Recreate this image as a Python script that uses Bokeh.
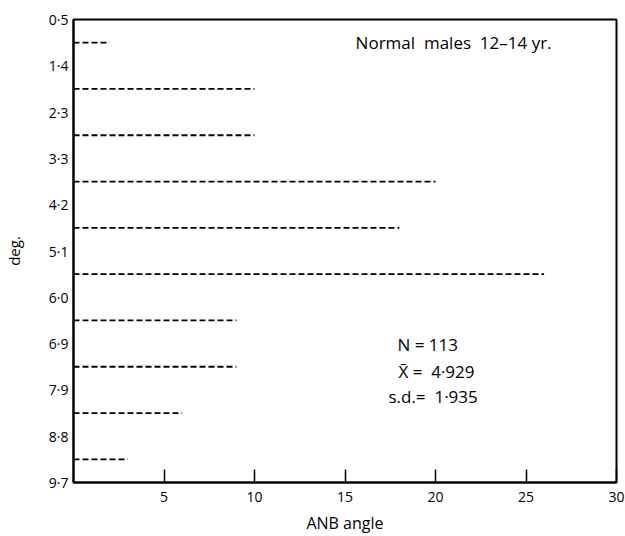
from bokeh.plotting import figure
from bokeh.models import Range1d, FixedTicker, Label, ColumnDataSource
from bokeh.embed import file_html
from bokeh.resources import INLINE

# ---- data ----
class_bounds = ["0·5", "1·4", "2·3", "3·3", "4·2", "5·1", "6·0", "6·9", "7·9", "8·8", "9·7"]
counts = [2, 10, 10, 20, 18, 26, 9, 9, 6, 3]
x_ticks = [5, 10, 15, 20, 25, 30]
x_title = "ANB angle"
y_title = "deg."
title_text = "Normal\u00a0 males\u00a0 12–14 yr."
stat_lines = ["N = 113", "X\u0304 =\u00a0 4·929", "s.d.=\u00a0 1·935"]

FONT = "Open Sans"

ys = [i + 0.5 for i in range(len(counts))]
src = ColumnDataSource(dict(x0=[0] * len(counts), x1=counts, y=ys))

p = figure(width=625, height=536, output_backend="svg", toolbar_location=None,
           x_range=Range1d(0, 30), y_range=Range1d(len(class_bounds) - 1, 0),
           min_border_left=71, min_border_top=19, min_border_right=9, min_border_bottom=53)

p.segment(x0="x0", y0="y", x1="x1", y1="y", source=src,
          line_color="black", line_width=1.8, line_dash="6 3")

p.xgrid.visible = False
p.ygrid.visible = False
p.outline_line_color = "black"
p.outline_line_width = 2
p.outline_line_alpha = 1

# x axis
xa = p.xaxis[0]
xa.ticker = FixedTicker(ticks=x_ticks)
xa.minor_tick_line_color = None
xa.major_tick_in = 13
xa.major_tick_out = 0
xa.major_tick_line_width = 1.5
xa.axis_line_width = 2
xa.major_label_text_font = FONT
xa.major_label_text_font_size = "14px"
xa.major_label_text_color = "black"
xa.major_label_standoff = 9
xa.axis_label = x_title
xa.axis_label_text_font = FONT
xa.axis_label_text_font_style = "normal"
xa.axis_label_text_font_size = "16px"
xa.axis_label_text_color = "black"
xa.axis_label_standoff = 7

# y axis
ya = p.yaxis[0]
ya.ticker = FixedTicker(ticks=list(range(len(class_bounds))))
ya.major_label_overrides = {i: s for i, s in enumerate(class_bounds)}
ya.minor_tick_line_color = None
ya.major_tick_in = 0
ya.major_tick_out = 0
ya.axis_line_width = 2
ya.major_label_text_font = FONT
ya.major_label_text_font_size = "14px"
ya.major_label_text_color = "black"
ya.major_label_standoff = 5
ya.axis_label = y_title
ya.axis_label_text_font = FONT
ya.axis_label_text_font_style = "normal"
ya.axis_label_text_font_size = "15px"
ya.axis_label_text_color = "black"
ya.axis_label_standoff = 22

p.add_layout(Label(x=21.0, y=0.5, text=title_text, text_align="center", text_baseline="middle",
                   text_font=FONT, text_font_size="17px", text_color="black"))

stat_x = [17.9, 17.95, 17.4]
stat_y = [7.03, 7.6, 8.15]
for t, sx, sy in zip(stat_lines, stat_x, stat_y):
    p.add_layout(Label(x=sx, y=sy, text=t, text_align="left", text_baseline="middle",
                       text_font=FONT, text_font_size="17px", text_color="black"))

open("out.html", "w").write(file_html(p, INLINE))
